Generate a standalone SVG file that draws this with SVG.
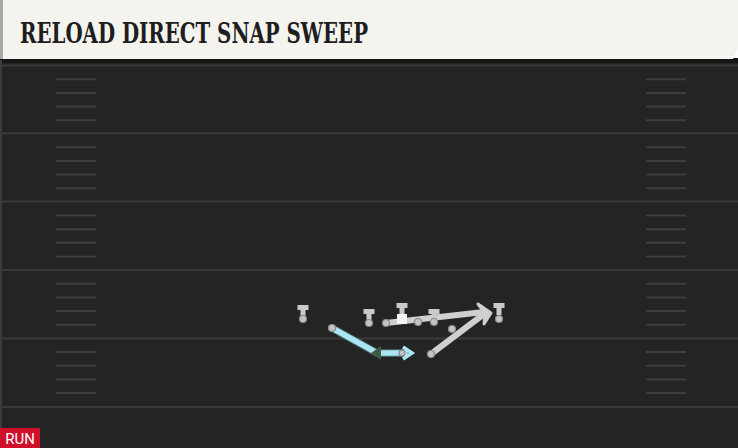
<svg xmlns="http://www.w3.org/2000/svg" width="738" height="448" viewBox="0 0 738 448">
<defs>
<style>
.yard{stroke:#3a3a3a;stroke-width:2}
.hash{stroke:#3d3d3d;stroke-width:2}
.def{fill:#c9c9c9;stroke:none}
.dot{fill:#c4c4c4;stroke:#8a8a8a;stroke-width:1.2}
.route{stroke:#cfcfcf;stroke-width:6;fill:none;stroke-linecap:round}
.motion-o{stroke:#4d6f75;stroke-width:7.5;fill:none;stroke-linecap:round}
.motion{stroke:#a9e6f1;stroke-width:5.5;fill:none;stroke-linecap:round}
</style>
<g id="hashL">
<line class="hash" x1="56" x2="96" y1="13.7" y2="13.7"/>
<line class="hash" x1="56" x2="96" y1="27.4" y2="27.4"/>
<line class="hash" x1="56" x2="96" y1="41" y2="41"/>
<line class="hash" x1="56" x2="96" y1="54.7" y2="54.7"/>
</g>
<g id="hashR">
<line class="hash" x1="646" x2="686" y1="13.7" y2="13.7"/>
<line class="hash" x1="646" x2="686" y1="27.4" y2="27.4"/>
<line class="hash" x1="646" x2="686" y1="41" y2="41"/>
<line class="hash" x1="646" x2="686" y1="54.7" y2="54.7"/>
</g>
</defs>
<g id="field">
<rect x="0" y="58" width="738" height="390" fill="#242424"/>
<rect x="0" y="58" width="738" height="5" fill="#151515"/>
<rect x="0" y="60" width="2" height="388" fill="#3b3b3b"/>
<line class="yard" x1="0" x2="738" y1="65.5" y2="65.5"/>
<line class="yard" x1="0" x2="738" y1="133.3" y2="133.3"/>
<line class="yard" x1="0" x2="738" y1="201.6" y2="201.6"/>
<line class="yard" x1="0" x2="738" y1="270" y2="270"/>
<line class="yard" x1="0" x2="738" y1="338.4" y2="338.4"/>
<line class="yard" x1="0" x2="738" y1="407" y2="407"/>
<use href="#hashL" y="65.5"/><use href="#hashR" y="65.5"/>
<use href="#hashL" y="133.6"/><use href="#hashR" y="133.6"/>
<use href="#hashL" y="201.8"/><use href="#hashR" y="201.8"/>
<use href="#hashL" y="270"/><use href="#hashR" y="270"/>
<use href="#hashL" y="338.4"/><use href="#hashR" y="338.4"/>
</g>
<g id="header">
<rect x="0" y="0" width="3" height="59" fill="#a9a9a9"/>
<polygon points="3,0 738,0 738,48 733,59 3,59" fill="#f5f3ee"/>
<text x="20" y="43" font-family="'DejaVu Serif Condensed','DejaVu Serif',serif" font-weight="bold" font-size="28" fill="#1e1e1e" textLength="348" lengthAdjust="spacingAndGlyphs">RELOAD DIRECT SNAP SWEEP</text>
</g>
<g id="connectors">
<line class="route" x1="386" y1="323" x2="484" y2="312"/>
<line class="route" x1="431" y1="354" x2="484" y2="314"/>
<polygon points="478,304 491,313 484,324 485,313" fill="#cfcfcf" stroke="#cfcfcf" stroke-width="3" stroke-linejoin="round"/>
<polyline class="motion-o" points="332,328 377,353 405,353"/>
<polyline class="motion" points="332,328 377,353 405,353"/>
<polyline points="403,347 412,353 403,359" fill="none" stroke="#a9e6f1" stroke-width="3.5"/>
<polygon points="371,353 381,346 381,360" fill="#3f5a45"/>
</g>
<g id="def1"><rect class="def" x="297.5" y="305" width="11" height="5"/><rect class="def" x="300.5" y="305" width="5" height="12"/><circle class="dot" cx="303" cy="319" r="3.5"/></g>
<g id="def2"><rect class="def" x="363.5" y="309" width="11" height="5"/><rect class="def" x="366.5" y="309" width="5" height="12"/><circle class="dot" cx="369" cy="323" r="3.5"/></g>
<g id="def3"><rect class="def" x="396.5" y="303" width="11" height="5"/><rect class="def" x="399.5" y="303" width="5" height="12"/></g>
<g id="def4"><rect class="def" x="428.5" y="309" width="11" height="5"/><rect class="def" x="431.5" y="309" width="5" height="12"/><circle class="dot" cx="434" cy="322" r="3.5"/></g>
<g id="def5"><rect class="def" x="493.5" y="303" width="11" height="5"/><rect class="def" x="496.5" y="303" width="5" height="12"/><circle class="dot" cx="499" cy="319" r="3.5"/></g>
<g id="center"><rect x="397" y="314" width="10" height="10" fill="#f4f4f4"/></g>
<g id="ol1"><circle class="dot" cx="386" cy="323" r="3.5"/></g>
<g id="ol2"><circle class="dot" cx="418" cy="322" r="3.5"/></g>
<g id="ol3"><circle class="dot" cx="452" cy="329" r="3.5"/></g>
<g id="rb"><circle class="dot" cx="431" cy="354" r="3.5"/></g>
<g id="wr"><circle class="dot" cx="332" cy="328" r="3.5"/></g>
<g id="mid"><circle class="dot" cx="402" cy="353" r="3"/></g>
<g id="badge"><rect x="0" y="428" width="40" height="20" fill="#d0102b"/><text x="20" y="444" text-anchor="middle" font-family="Roboto,'Liberation Sans',sans-serif" font-size="15" fill="#ffffff">RUN</text></g>
</svg>
